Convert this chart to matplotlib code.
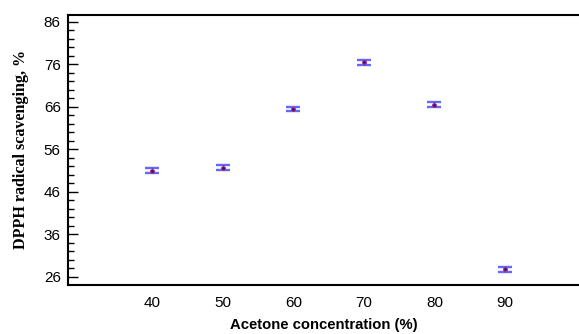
import matplotlib.pyplot as plt
from matplotlib.ticker import MultipleLocator

# Dados
acetona = [40, 50, 60, 70, 80, 90]
dpph = [51.0, 51.7, 65.4, 76.5, 66.5, 27.7]
erro = [0.5, 0.5, 0.5, 0.55, 0.6, 0.5]
yticks = [26, 36, 46, 56, 66, 76, 86]

fig = plt.figure(figsize=(5.79, 3.34), dpi=100)
ax = fig.add_axes([0.117, 0.1476, 0.883, 0.8084])

# barras de erro (azul translúcido)
ax.errorbar(acetona, dpph, yerr=erro, fmt='none', ecolor='#0000ff', elinewidth=0.8,
            capsize=5.2, capthick=1.7, alpha=0.6)
# pontos
ax.plot(acetona, dpph, 'o', ms=2.8, mfc='#1a1ab0', mec='#c8284a', mew=0.7)

ax.set_xlim(28, 100.5)
ax.set_ylim(24.1, 87.7)
ax.set_xticks(acetona)
ax.set_yticks(yticks)
ax.yaxis.set_minor_locator(MultipleLocator(2))

ax.spines['right'].set_visible(False)
for s in ['left', 'bottom', 'top']:
    ax.spines[s].set_linewidth(1.5)

ax.tick_params(axis='y', which='major', direction='in', length=7.5, width=1, labelsize=11, pad=5)
ax.tick_params(axis='y', which='minor', direction='in', length=4, width=1)
ax.tick_params(axis='x', length=0, labelsize=11, pad=8)
for lab in ax.get_xticklabels() + ax.get_yticklabels():
    lab.set_family('Liberation Sans')

ax.set_xlabel('Acetone concentration (%)', family='Liberation Sans', fontweight='bold',
              fontsize=10.7, labelpad=6)
ax.set_ylabel('DPPH radical scavenging, %', family='Liberation Serif', fontweight='bold',
              fontsize=11.6, labelpad=11)

fig.savefig('out.png', dpi=100)
